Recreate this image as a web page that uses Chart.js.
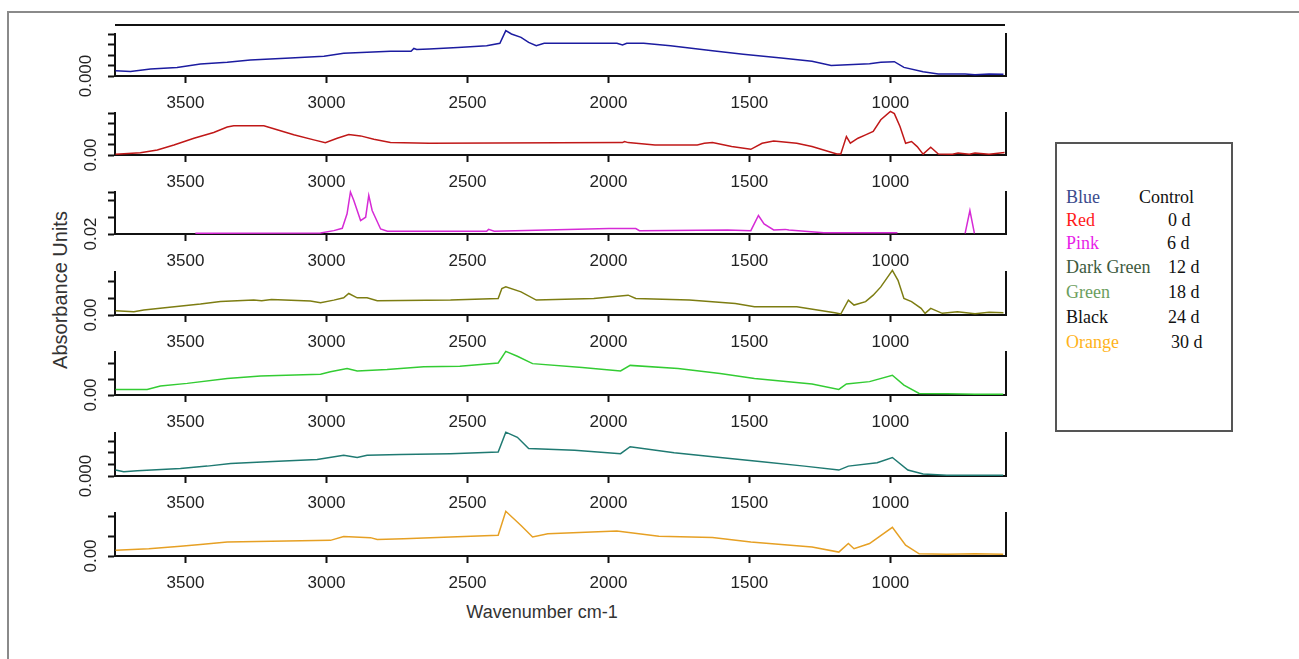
<!DOCTYPE html>
<html>
<head>
<meta charset="utf-8">
<script src="https://cdn.jsdelivr.net/npm/chart.js@4.4.1/dist/chart.umd.min.js"></script>
<style>
  body { margin: 0; width: 1299px; height: 659px; background: #fff; position: relative; overflow: hidden; font-family: "Liberation Sans", Arial, sans-serif; }
  .frame { position: absolute; left: 7px; top: 11px; width: 1300px; height: 660px; border-top: 2px solid #8a8a8a; border-left: 2px solid #8a8a8a; }
  .panel { position: absolute; left: 0; width: 1040px; height: 100px; }
  .topline { position: absolute; left: 115px; top: 24px; width: 890px; height: 2px; background: #111; }
  .ytitle { position: absolute; left: 60px; top: 290px; transform: translate(-50%, -50%) rotate(-90deg); font-size: 20px; color: #333; white-space: nowrap; }
  .xtitle { position: absolute; left: 542px; top: 612px; transform: translate(-50%, -50%); font-size: 18px; color: #333; white-space: nowrap; }
  .legend { position: absolute; left: 1055px; top: 142px; width: 174px; height: 286px; border: 2px solid #555; }
  .legend span { position: absolute; font-family: "Liberation Serif", serif; font-size: 18px; line-height: 24px; white-space: nowrap; }
</style>
</head>
<body>
<div class="frame"></div>
<div class="topline"></div>
<div class="ytitle">Absorbance Units</div>
<div class="xtitle">Wavenumber cm-1</div>
<div class="legend" id="legend"></div>

<script>
// spectra, wavenumber (cm-1) and absorbance
const wnBlue = [3748,3695,3624,3530,3447,3352,3270,3128,3009,2939,2773,2700,2690,2680,2636,2534,2432,2385,2364,2344,2310,2283,2256,2228,1970,1950,1935,1875,1780,1631,1522,1387,1278,1210,1074,1034,986,952,884,830,735,700,650,599];
const absBlue = [0.00051,0.00044,0.00067,0.00082,0.00114,0.0013,0.00152,0.00172,0.00187,0.00216,0.00235,0.00235,0.00262,0.00252,0.00257,0.00272,0.00288,0.00312,0.00432,0.004,0.00368,0.0032,0.00288,0.00312,0.00312,0.00296,0.00312,0.00312,0.00288,0.0024,0.00208,0.00172,0.0014,0.001,0.00116,0.0013,0.00136,0.00082,0.0004,0.0002,0.0002,0.00012,0.0002,0.00016];

const wnRed = [3748,3660,3600,3541,3470,3400,3352,3329,3222,3175,3116,3045,3004,2962,2921,2879,2832,2773,2636,1950,1943,1930,1835,1685,1660,1631,1563,1495,1455,1414,1332,1278,1190,1176,1156,1142,1115,1088,1061,1034,1000,986,966,946,925,905,884,857,830,780,760,720,700,650,595];
const absRed = [0.0008,0.0022,0.0048,0.0096,0.016,0.0214,0.0266,0.0278,0.0278,0.024,0.0192,0.0144,0.0118,0.016,0.0195,0.0182,0.015,0.0118,0.0112,0.0118,0.0128,0.0118,0.0096,0.0096,0.0112,0.0118,0.008,0.0054,0.0112,0.0134,0.0112,0.008,0.001,0.001,0.0176,0.0112,0.016,0.0192,0.0224,0.0336,0.0416,0.0394,0.0272,0.0112,0.0128,0.008,0.0008,0.0074,0.001,0.0008,0.002,0.0008,0.002,0.0008,0.0024];

const wnPink = [3465,3021,2974,2944,2927,2915,2903,2879,2861,2850,2838,2808,2784,2432,2425,2405,1998,1903,1890,1577,1495,1468,1448,1414,1373,1360,1236,975,900,735,718,702];
const absPink = [0.0208,0.0212,0.024,0.0268,0.044,0.07,0.06,0.036,0.04,0.066,0.048,0.026,0.0232,0.0232,0.0255,0.0232,0.0265,0.0265,0.024,0.0248,0.024,0.042,0.032,0.0248,0.0255,0.0248,0.0216,0.0216,null,0.0208,0.048,0.0208];

const wnOlive = [3748,3683,3648,3565,3447,3376,3258,3230,3195,3057,3021,2974,2939,2921,2891,2856,2820,2560,2391,2378,2364,2310,2256,2052,1930,1903,1713,1550,1482,1332,1197,1176,1149,1129,1088,1061,1034,993,973,952,925,891,877,857,816,762,700,650,599];
const absOlive = [0.0026,0.002,0.003,0.0046,0.0066,0.0081,0.009,0.0086,0.0094,0.0084,0.0074,0.009,0.0104,0.013,0.0104,0.0104,0.0086,0.009,0.01,0.016,0.017,0.014,0.009,0.01,0.012,0.01,0.009,0.007,0.005,0.005,0.0014,0.0006,0.009,0.006,0.0081,0.012,0.017,0.027,0.021,0.01,0.0081,0.004,0.001,0.004,0.001,0.002,0.0008,0.0016,0.0014];

const wnGreen = [3748,3636,3589,3494,3352,3234,3021,2986,2927,2891,2785,2655,2527,2391,2364,2323,2269,2093,1957,1923,1753,1604,1482,1278,1183,1156,1074,993,952,898,800,700,600];
const absGreen = [0.0035,0.0035,0.0057,0.0073,0.0104,0.012,0.0131,0.0146,0.0166,0.0151,0.016,0.0177,0.0181,0.0201,0.0274,0.0243,0.0197,0.0173,0.0151,0.0186,0.0166,0.0135,0.0104,0.0069,0.0035,0.0069,0.0084,0.0124,0.0062,0.001,0.0008,0.0005,0.0005];

const wnTeal = [3748,3719,3671,3518,3423,3340,3210,3033,2939,2891,2856,2738,2560,2391,2364,2323,2283,2120,1957,1923,1767,1604,1455,1305,1183,1149,1047,993,938,884,800,600];
const absTeal = [0.00051,0.00037,0.00046,0.00065,0.00085,0.00107,0.00122,0.00142,0.00179,0.00159,0.00179,0.00185,0.00192,0.00207,0.00377,0.00333,0.00237,0.00222,0.00192,0.00252,0.002,0.00159,0.00122,0.00085,0.00051,0.00085,0.00114,0.00159,0.00051,0.00017,0.00007,0.00007];

const wnOrange = [3748,3630,3518,3447,3352,2986,2939,2844,2820,2726,2560,2391,2364,2310,2269,2215,1970,1821,1631,1495,1278,1183,1149,1129,1074,993,946,898,800,700,600];
const absOrange = [0.0029,0.0037,0.005,0.0059,0.0072,0.008,0.01,0.0094,0.0084,0.0088,0.0097,0.0106,0.0229,0.0156,0.0097,0.0114,0.0128,0.0101,0.0095,0.0072,0.0046,0.002,0.0064,0.0037,0.0064,0.0147,0.0055,0.0011,0.0009,0.0011,0.0009];

const xTicks = [3500, 3000, 2500, 2000, 1500, 1000];
const yLabels = ['0.000', '0.00', '0.02', '0.00', '0.00', '0.000', '0.00'];

const legendNames = ['Blue', 'Red', 'Pink', 'Dark Green', 'Green', 'Black', 'Orange'];
const legendDays = ['Control', '0 d', '6 d', '12 d', '18 d', '24 d', '30 d'];

// one stacked panel per spectrum
const panels = [
    { wn: wnBlue, abs: absBlue, color: '#1c1ca0', min: 0, max: 0.004, step: 0.001, bottom: 76, h: 42 },
    { wn: wnRed, abs: absRed, color: '#c01818', min: 0, max: 0.04, step: 0.01, bottom: 155, h: 42 },
    { wn: wnPink, abs: absPink, color: '#d62ad6', min: 0.02, max: 0.07, step: 0.02, bottom: 234, h: 42 },
    { wn: wnOlive, abs: absOlive, color: '#7d7d12', min: 0, max: 0.026, step: 0.01, bottom: 315, h: 43 },
    { wn: wnGreen, abs: absGreen, color: '#33cc33', min: 0, max: 0.027, step: 0.01, bottom: 395, h: 43 },
    { wn: wnTeal, abs: absTeal, color: '#1f7a72', min: 0, max: 0.0037, step: 0.001, bottom: 476, h: 43 },
    { wn: wnOrange, abs: absOrange, color: '#e6a024', min: 0, max: 0.022, step: 0.01, bottom: 556, h: 43 }
];

const tickFont = { family: 'Liberation Sans', size: 17 };

panels.forEach((p, idx) => {
    let canvas = document.createElement('canvas');
    canvas.className = 'panel';
    canvas.width = 1040;
    canvas.height = 100;
    canvas.style.top = (p.bottom - 60) + 'px';
    document.body.appendChild(canvas);

    new Chart(canvas.getContext('2d'), {
        type: 'line',
        data: {
            datasets: [{
                data: p.wn.map((w, i) => ({ x: w, y: p.abs[i] })),
                borderColor: p.color,
                borderWidth: 1.5,
                pointRadius: 0,
                tension: 0,
                spanGaps: false,
                clip: false
            }]
        },
        options: {
            responsive: false,
            animation: false,
            events: [],
            layout: { padding: { left: 0, right: 34, top: 60 - p.h, bottom: 0 } },
            plugins: { legend: { display: false }, tooltip: { enabled: false } },
            scales: {
                x: {
                    type: 'linear', reverse: true, min: 590, max: 3750, bounds: 'data',
                    afterBuildTicks: s => { s.ticks = xTicks.map(v => ({ value: v })); },
                    ticks: { autoSkip: false, maxRotation: 0, padding: 10, color: '#222', font: tickFont, callback: v => String(v) },
                    grid: { display: true, drawOnChartArea: false, drawTicks: true, tickLength: 7, tickWidth: 2, tickColor: '#111' },
                    border: { display: true, color: '#111', width: 2 },
                    afterFit: s => { s.height = 40; }
                },
                y: {
                    type: 'linear', position: 'left', min: p.min, max: p.max, bounds: 'data',
                    ticks: {
                        stepSize: p.step, includeBounds: false, autoSkip: false,
                        minRotation: 90, maxRotation: 90, crossAlign: 'center', padding: 0,
                        color: '#222', font: tickFont,
                        callback: (v, i) => i === 0 ? yLabels[idx] : ''
                    },
                    grid: { display: true, drawOnChartArea: false, drawTicks: true, tickLength: 7, tickWidth: 2, tickColor: '#111' },
                    border: { display: true, color: '#111', width: 2 },
                    afterFit: s => { s.width = 115; }
                },
                yR: {
                    position: 'right',
                    ticks: { display: false },
                    grid: { display: false, drawTicks: false },
                    border: { display: true, color: '#111', width: 2 },
                    afterFit: s => { s.width = 0; }
                }
            }
        }
    });
});

// legend box, two columns of plain text
const legendColors = ['#3b4a8c', '#ff1a1a', '#e81ee8', '#3d5a3d', '#6b9e5e', '#111111', '#ffb31a'];
const legendTops = [41, 64, 87, 111, 136, 161, 186];
const dayLefts = [82, 111, 110, 111, 111, 111, 114];
let legend = document.getElementById('legend');
for (let i = 0; i < legendNames.length; i++) {
    legend.innerHTML += `<span style="left:9px;top:${legendTops[i]}px;color:${legendColors[i]}">${legendNames[i]}</span>`;
    legend.innerHTML += `<span style="left:${dayLefts[i]}px;top:${legendTops[i]}px;color:#111">${legendDays[i]}</span>`;
}
</script>
</body>
</html>
